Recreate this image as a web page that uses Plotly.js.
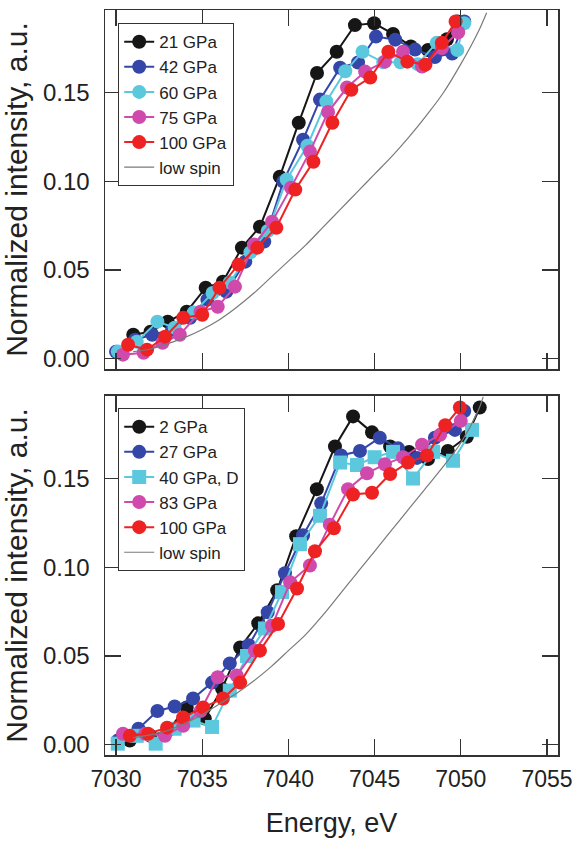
<!DOCTYPE html>
<html><head><meta charset="utf-8">
<script src="https://cdn.plot.ly/plotly-3.0.1.min.js"></script>
<style>html,body{margin:0;padding:0;background:#fff}#chart{width:575px;height:842px}</style>
</head><body><div id="chart"></div>
<script>
// ---------- TOP PANEL ----------
const topNames = ["21 GPa", "42 GPa", "60 GPa", "75 GPa", "100 GPa"];
const top21E = [7031.0,7032.0,7033.0,7034.1,7035.2,7036.2,7037.3,7038.35,7039.5,7040.6,7041.66,7042.8,7043.86,7044.97,7046.07,7047.1,7048.1,7049.2,7049.8];
const top21I = [0.0135,0.0152,0.0209,0.0265,0.040,0.0434,0.0626,0.0744,0.1026,0.133,0.161,0.173,0.188,0.189,0.183,0.176,0.174,0.180,0.190];
const top42E = [7030.0,7031.1,7032.1,7033.25,7034.3,7035.3,7036.4,7037.5,7038.6,7039.7,7040.85,7041.83,7043.0,7044.04,7045.08,7046.2,7047.35,7048.5,7049.5,7050.2];
const top42I = [0.0039,0.0107,0.0135,0.0163,0.0231,0.0333,0.0378,0.0547,0.066,0.0998,0.1234,0.146,0.164,0.1669,0.1815,0.1798,0.1742,0.170,0.172,0.190];
const top60E = [7030.1,7031.2,7032.4,7033.4,7034.5,7035.6,7036.6,7037.8,7038.8,7039.9,7041.1,7042.2,7043.3,7044.3,7045.5,7046.5,7047.5,7048.6,7049.8,7050.2];
const top60I = [0.004,0.0096,0.0209,0.0175,0.026,0.037,0.043,0.060,0.072,0.101,0.120,0.145,0.162,0.173,0.167,0.167,0.166,0.178,0.174,0.189];
const top75E = [7030.4,7031.6,7032.7,7033.7,7034.9,7035.9,7036.9,7038.0,7039.05,7040.15,7041.25,7042.3,7043.4,7044.45,7045.6,7046.65,7047.75,7048.9,7049.85];
const top75I = [0.0023,0.0034,0.009,0.0135,0.0265,0.0293,0.0406,0.0643,0.0772,0.0964,0.1167,0.139,0.1528,0.1618,0.1674,0.173,0.1646,0.175,0.184];
const top100E = [7030.7,7031.8,7032.85,7033.9,7035.0,7036.0,7037.1,7038.2,7039.3,7040.4,7041.45,7042.55,7043.65,7044.75,7045.8,7046.9,7047.95,7048.9,7049.7];
const top100I = [0.0079,0.0051,0.0124,0.0231,0.0248,0.040,0.053,0.0626,0.0738,0.0953,0.111,0.133,0.1516,0.1584,0.173,0.1674,0.1657,0.178,0.190];
const topLowSpinE = [7031,7032,7033,7034,7035,7036,7037,7038,7039,7040,7041,7042,7043,7044,7045,7046,7047,7048,7049,7050,7051,7051.5];
const topLowSpinI = [0.004,0.0055,0.0085,0.012,0.0165,0.022,0.029,0.037,0.046,0.055,0.064,0.074,0.084,0.094,0.104,0.114,0.125,0.137,0.150,0.166,0.184,0.195];

// ---------- BOTTOM PANEL ----------
const botNames = ["2 GPa", "27 GPa", "40 GPa, D", "83 GPa", "100 GPa"];
const bot2E = [7030.8,7032.0,7033.0,7034.1,7035.15,7036.15,7037.2,7038.25,7039.35,7040.45,7041.65,7042.7,7043.75,7044.85,7045.9,7047.0,7048.1,7049.25,7050.35,7051.1];
const bot2I = [0.0023,0.005,0.008,0.021,0.0147,0.0316,0.0548,0.0684,0.087,0.1175,0.144,0.168,0.185,0.176,0.168,0.165,0.161,0.1655,0.1735,0.190];
const bot27E = [7030.1,7031.3,7032.4,7033.4,7034.47,7035.57,7036.6,7037.7,7038.8,7039.8,7040.85,7041.9,7043.05,7044.15,7045.3,7046.36,7047.46,7048.5,7049.66,7050.2];
const bot27I = [0.0023,0.009,0.019,0.0215,0.026,0.035,0.0458,0.056,0.0746,0.0966,0.118,0.136,0.163,0.1655,0.173,0.167,0.1616,0.173,0.1774,0.188];
const bot40E = [7030.1,7031.2,7032.3,7033.4,7034.5,7035.57,7036.6,7037.6,7038.64,7039.63,7040.67,7041.83,7043.0,7043.98,7045.0,7046.07,7047.23,7048.4,7049.55,7050.65];
const bot40I = [0.0006,0.005,0.0006,0.009,0.0136,0.010,0.0305,0.050,0.0655,0.086,0.113,0.129,0.159,0.1576,0.162,0.165,0.150,0.165,0.160,0.1774];
const bot83E = [7030.4,7031.7,7032.84,7033.9,7034.9,7035.9,7037.0,7038.06,7039.05,7040.1,7041.25,7042.4,7043.46,7044.56,7045.6,7046.65,7047.75,7048.8,7050.0];
const bot83I = [0.0062,0.0062,0.005,0.0107,0.019,0.038,0.039,0.053,0.067,0.0915,0.101,0.124,0.144,0.153,0.158,0.162,0.169,0.1746,0.1825];
const bot100E = [7030.8,7031.86,7032.96,7033.89,7035.05,7036.2,7037.2,7038.35,7039.4,7040.5,7041.54,7042.64,7043.75,7044.85,7045.9,7046.94,7048.04,7049.1,7049.95];
const bot100I = [0.005,0.0062,0.0096,0.0153,0.021,0.026,0.035,0.053,0.068,0.088,0.109,0.122,0.141,0.142,0.1525,0.159,0.163,0.180,0.190];
const botLowSpinE = [7031,7032,7033,7034,7035,7036,7037,7038,7039,7040,7041,7042,7043,7044,7045,7046,7047,7048,7049,7050,7051,7051.3];
const botLowSpinI = [0.004,0.0055,0.008,0.012,0.017,0.023,0.029,0.036,0.044,0.053,0.062,0.073,0.085,0.097,0.109,0.121,0.133,0.145,0.157,0.170,0.188,0.196];

const lowSpinName = "low spin";
const colors = ["#161616", "#3447a8", "#5cc8de", "#cf4aac", "#ee2222"];
const lowSpinColor = "#7a7a7a";

function pts(x, y, name, color, sym, xa, ya, leg) {
  return {x: x, y: y, name: name, type: "scatter", mode: "lines+markers",
    xaxis: xa, yaxis: ya, legend: leg,
    line: {color: color, width: 2},
    marker: {color: color, size: 14, symbol: sym, line: {width: 0}}};
}
function ls(x, y, xa, ya, leg) {
  return {x: x, y: y, name: lowSpinName, type: "scatter", mode: "lines",
    xaxis: xa, yaxis: ya, legend: leg, line: {color: lowSpinColor, width: 1.2, shape: "spline"}};
}

const data = [
  pts(top21E, top21I, topNames[0], colors[0], "circle", "x", "y", "legend"),
  pts(top42E, top42I, topNames[1], colors[1], "circle", "x", "y", "legend"),
  pts(top60E, top60I, topNames[2], colors[2], "circle", "x", "y", "legend"),
  pts(top75E, top75I, topNames[3], colors[3], "circle", "x", "y", "legend"),
  pts(top100E, top100I, topNames[4], colors[4], "circle", "x", "y", "legend"),
  ls(topLowSpinE, topLowSpinI, "x", "y", "legend"),
  pts(bot2E, bot2I, botNames[0], colors[0], "circle", "x2", "y2", "legend2"),
  pts(bot27E, bot27I, botNames[1], colors[1], "circle", "x2", "y2", "legend2"),
  pts(bot40E, bot40I, botNames[2], colors[2], "square", "x2", "y2", "legend2"),
  pts(bot83E, bot83I, botNames[3], colors[3], "circle", "x2", "y2", "legend2"),
  pts(bot100E, bot100I, botNames[4], colors[4], "circle", "x2", "y2", "legend2"),
  ls(botLowSpinE, botLowSpinI, "x2", "y2", "legend2")
];

const FONT = "Liberation Sans, Arial, Helvetica, sans-serif";
const xr = [7029.36, 7055.64];
const yr = [-0.0058, 0.1965];
const axCommon = {showline: true, linecolor: "#333", linewidth: 1.5, mirror: "ticks",
  ticks: "inside", ticklen: 16, tickwidth: 1.3, tickcolor: "#333",
  showgrid: false, zeroline: false};
const xCommon = Object.assign({}, axCommon, {range: xr, tick0: 7030, dtick: 5, fixedrange: true,
  tickfont: {family: FONT, size: 23, color: "#222"}});
const yCommon = Object.assign({}, axCommon, {range: yr, tick0: 0, dtick: 0.05, tickformat: ".2f",
  ticklabelstandoff: 9, tickfont: {family: FONT, size: 24, color: "#222"},
  title: {text: "Normalized intensity, a.u.", font: {family: FONT, size: 30, color: "#222"}, standoff: 6}});

const legCommon = {x: 0.0287, xanchor: "left", yanchor: "top", bgcolor: "#fff",
  bordercolor: "#333", borderwidth: 1.2, font: {family: FONT, size: 17, color: "#222"},
  tracegroupgap: 0};

const layout = {
  width: 575, height: 842,
  margin: {l: 105, r: 17, t: 10, b: 87},
  paper_bgcolor: "#fff", plot_bgcolor: "#fff",
  font: {family: FONT},
  xaxis: Object.assign({}, xCommon, {anchor: "y", showticklabels: false}),
  xaxis2: Object.assign({}, xCommon, {anchor: "y2", ticklabelstandoff: 3,
    title: {text: "Energy, eV", font: {family: FONT, size: 27, color: "#222"}, standoff: 22}}),
  yaxis: Object.assign({}, yCommon, {domain: [0.5181, 1], anchor: "x"}),
  yaxis2: Object.assign({}, yCommon, {domain: [0, 0.4819], anchor: "x2"}),
  legend: Object.assign({}, legCommon, {y: 0.9826}),
  legend2: Object.assign({}, legCommon, {y: 0.4658}),
  showlegend: true
};

Plotly.newPlot("chart", data, layout, {displayModeBar: false, staticPlot: true});
</script>
</body></html>
